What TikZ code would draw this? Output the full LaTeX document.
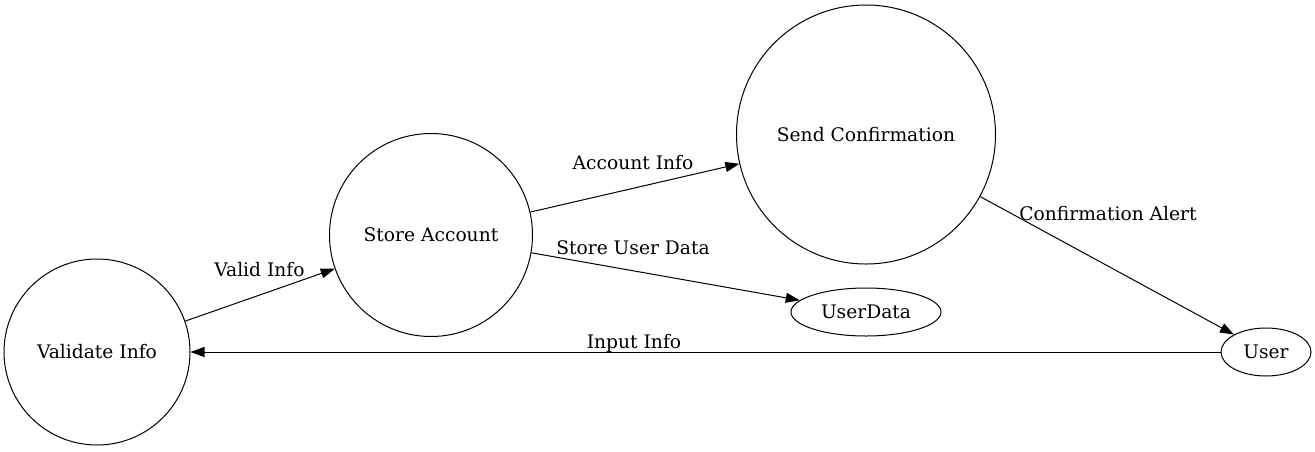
\documentclass[tikz,border=0pt]{standalone}
\usepackage{fontspec}
\setmainfont{DejaVu Serif}
\usetikzlibrary{shapes.geometric, arrows.meta}

\begin{document}
\begin{tikzpicture}[
        x=0.75pt, y=-0.75pt,
        font=\fontsize{14}{17}\selectfont,
        process/.style={circle, draw, line width=0.75pt, inner sep=0pt, minimum size=#1},
        store/.style={ellipse, draw, line width=0.75pt, inner sep=0pt, minimum height=36pt},
        flowlabel/.style={anchor=base, inner sep=0pt},
        line/.style={draw, line width=0.75pt, -{Triangle[length=10.5pt, width=7.5pt]}}
    ]
        \useasboundingbox (0,0) rectangle (1315,451);

        % Processes
        \node [process=139.5pt] (validate) at (97,352) {Validate Info};
        \node [process=152.25pt] (storeacc) at (431,235) {Store Account};
        \node [process=194.25pt] (confirm) at (866,134.5) {Send Confirmation};

        % Data store and external entity
        \node [store, minimum width=112.5pt] (userdata) at (866,312) {UserData};
        \node [store, minimum width=67.5pt] (user) at (1266,352) {User};

        % Flows
        \path [line] (validate) -- (storeacc);
        \path [line] (storeacc) -- (confirm);
        \path [line] (storeacc) -- (userdata);
        \path [line] (confirm) -- (user);
        \path [line] (user) -- (validate);

        % Flow labels
        \node [flowlabel] (lblvalid) at (259.5,276) {Valid Info};
        \node [flowlabel] (lblaccount) at (633,169) {Account Info};
        \node [flowlabel] (lblstore) at (633,254) {Store User Data};
        \node [flowlabel] (lblalert) at (1108,220) {Confirmation Alert};
        \node [flowlabel] (lblinput) at (634,348) {Input Info};

    \end{tikzpicture}
\end{document}
